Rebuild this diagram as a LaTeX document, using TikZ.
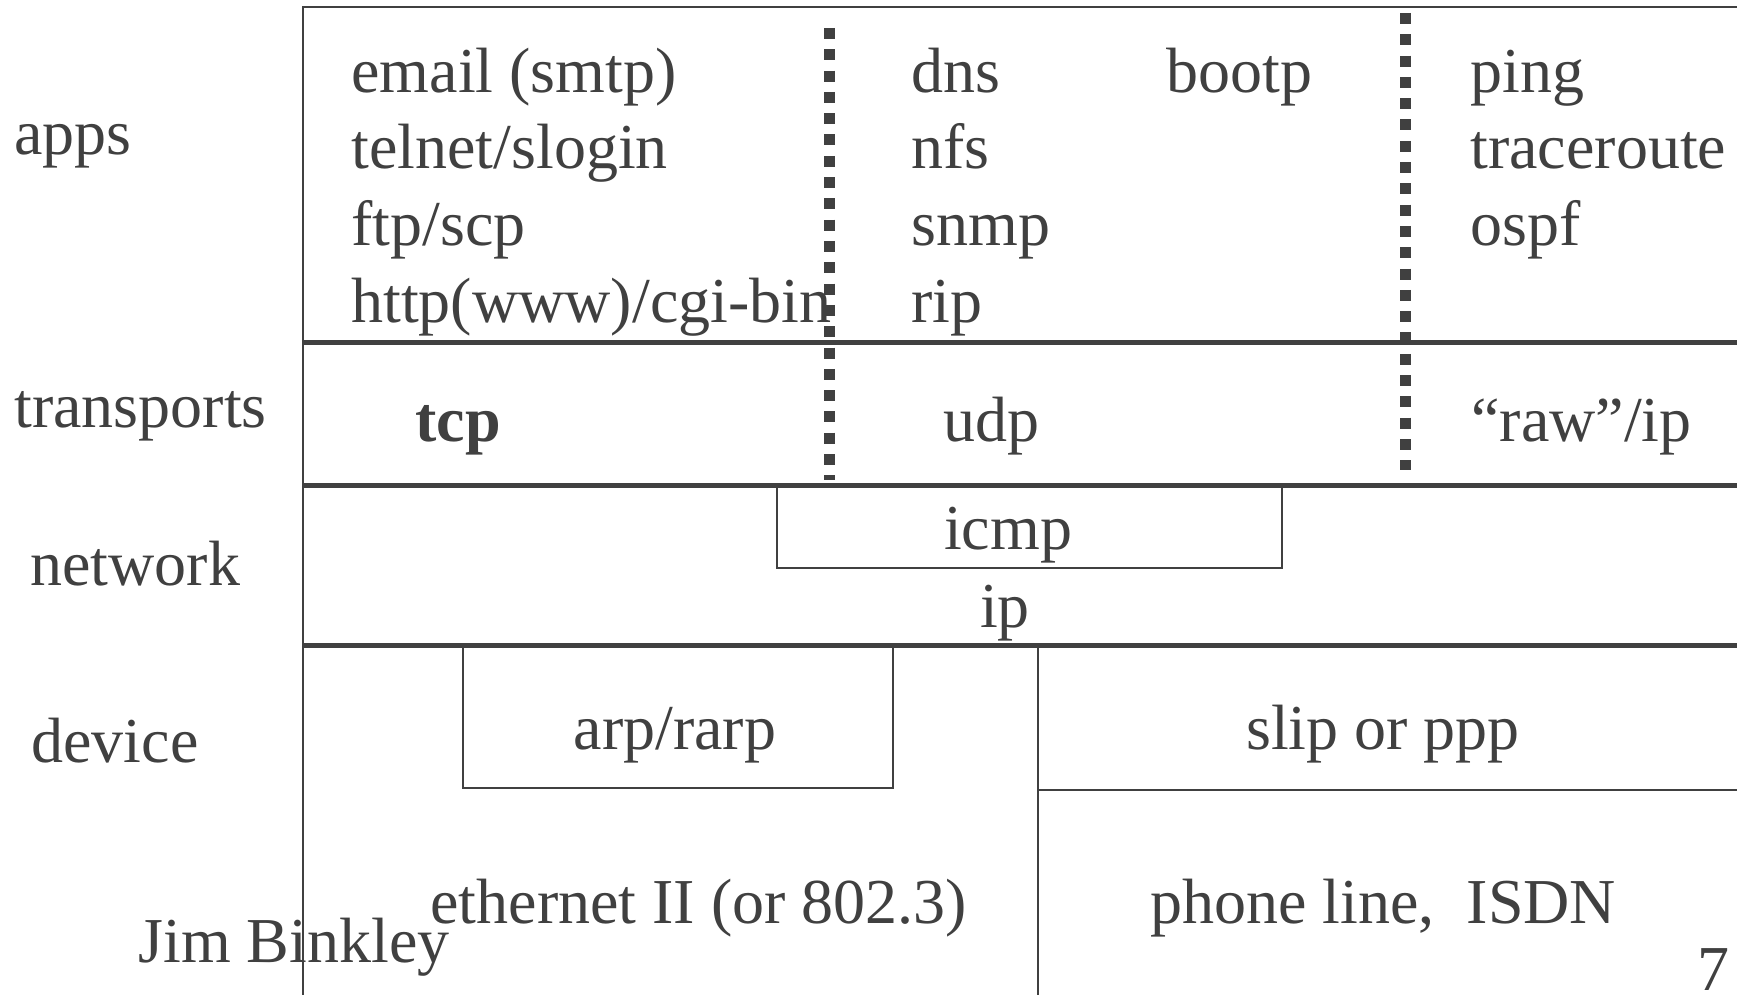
\documentclass[tikz,border=0pt]{standalone}
\usepackage{fontspec}
\setmainfont{Liberation Serif}
\definecolor{ink}{HTML}{404040}
\tikzset{
  txt/.style={anchor=base west, inner sep=0pt, text=ink, font=\fontsize{32}{38}\selectfont},
  ctxt/.style={txt, anchor=base},
  heavy/.style={draw=ink, line width=2.5pt},
  light/.style={draw=ink, line width=1.35pt},
  dotline/.style={draw=ink, line width=5.5pt, dash pattern=on 5.5pt off 5.15pt}
}
\begin{document}
\begin{tikzpicture}[x=0.5pt, y=-0.5pt]
\useasboundingbox (0,0) rectangle (1737,995);
\fill[white] (0,0) rectangle (1737,995);

% frame and layer separators
\draw[light] (303,995) -- (303,7) -- (1737,7);
\draw[heavy] (303,342) -- (1737,342);
\draw[heavy] (303,485) -- (1737,485);
\draw[heavy] (303,645) -- (1737,645);

% boxes inside the layers
\draw[light] (777,485) rectangle (1282,568);
\draw[light] (463,645) rectangle (893,788);
\draw[light] (1038,645) -- (1038,995);
\draw[light] (1038,790) -- (1737,790);

% dotted column separators
\coordinate (d1top) at (829.5,28);
\coordinate (d1bot) at (829.5,480);
\coordinate (d2top) at (1405.5,13);
\coordinate (d2bot) at (1405.5,470);
\draw[dotline] (d1top) -- (d1bot);
\draw[dotline] (d2top) -- (d2bot);

% layer names
\node[txt] (apps) at (14,155) {apps};
\node[txt] (transports) at (14,427) {transports};
\node[txt] (network) at (30,585) {network};
\node[txt] (device) at (31,762) {device};

% applications
\node[txt] (smtp) at (351,93) {email (smtp)};
\node[txt] (telnet) at (351,169) {telnet/slogin};
\node[txt] (ftp) at (351,246) {ftp/scp};
\node[txt] (http) at (351,322) {http(www)/cgi-bin};
\node[txt] (dns) at (911,93) {dns};
\node[txt] (nfs) at (911,169) {nfs};
\node[txt] (snmp) at (911,246) {snmp};
\node[txt] (rip) at (911,322) {rip};
\node[txt] (bootp) at (1166,93) {bootp};
\node[txt] (ping) at (1470,93) {ping};
\node[txt] (trace) at (1470,169) {traceroute};
\node[txt] (ospf) at (1470,246) {ospf};

% transports
\node[txt, font=\fontsize{32}{38}\selectfont\bfseries] (tcp) at (415,441) {tcp};
\node[txt] (udp) at (943,441) {udp};
\node[txt] (raw) at (1471,441) {“raw”/ip};

% network
\node[ctxt] (icmp) at (1008,549) {icmp};
\node[ctxt] (ip) at (1005,627) {ip};

% device
\node[ctxt] (arp) at (675,749) {arp/rarp};
\node[ctxt] (slip) at (1383,749) {slip or ppp};
\node[txt] (ether) at (430,923) {ethernet II (or 802.3)};
\node[txt] (phone) at (1150,923) {phone line,\ \ ISDN};

% footer
\node[txt] (author) at (138,962) {Jim Binkley};
\node[txt] (page) at (1697,990) {7};
\end{tikzpicture}
\end{document}
